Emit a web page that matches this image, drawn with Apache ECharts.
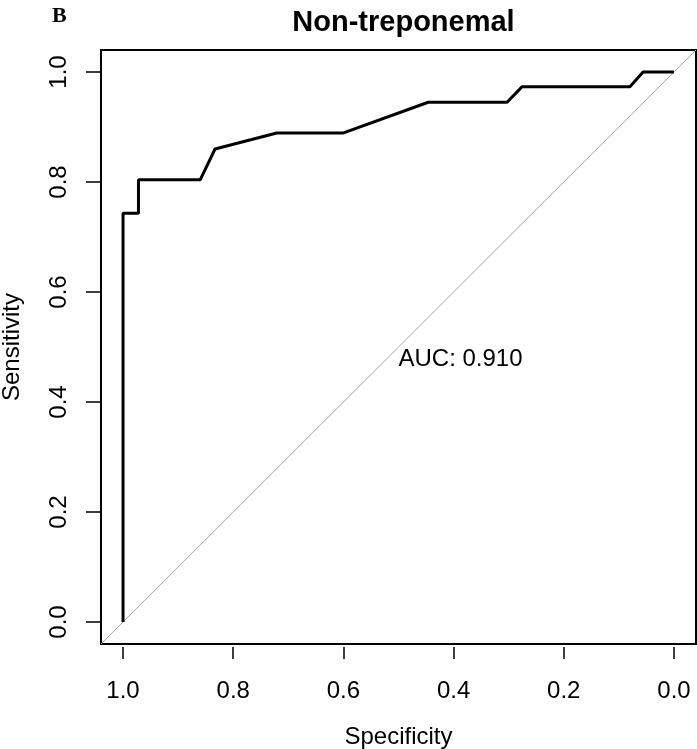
<!DOCTYPE html>
<html>
<head>
<meta charset="utf-8">
<title>Non-treponemal ROC</title>
<script src="https://cdn.jsdelivr.net/npm/echarts@6/dist/echarts.min.js"></script>
<style>
  html, body { margin: 0; padding: 0; background: #fff; }
  #chart { width: 697px; height: 749px; }
</style>
</head>
<body>
<div id="chart"></div>
<script>
// ROC curve points
const specificity = [1.0, 1.0, 0.972, 0.972, 0.860, 0.833, 0.721, 0.601, 0.446, 0.303, 0.276, 0.080, 0.056, 0.0];
const sensitivity = [0.0, 0.743, 0.743, 0.804, 0.804, 0.860, 0.889, 0.889, 0.945, 0.945, 0.973, 0.973, 1.0, 1.0];
// chance line, runs corner to corner of the (4% padded) plot region
const chanceSpec = [1.04, -0.04];
const chanceSens = [-0.04, 1.04];
const tickValues = [0, 0.2, 0.4, 0.6, 0.8, 1.0];
const aucPos = [0.5, 0.5];
const aucText = 'AUC: 0.910';
const panelTag = 'B';
const titleText = 'Non-treponemal';

const font = 'Liberation Sans, Arial, sans-serif';
const chart = echarts.init(document.getElementById('chart'), null, { renderer: 'canvas' });

const rocData = specificity.map((s, i) => [s, sensitivity[i]]);
const chanceData = chanceSpec.map((s, i) => [s, chanceSens[i]]);

chart.setOption({
  animation: false,
  backgroundColor: '#fff',
  title: [
    {
      text: titleText,
      left: 398.5,
      textAlign: 'center',
      top: 3,
      textStyle: { fontFamily: font, fontWeight: 'bold', fontSize: 29, color: '#000' },
    },
    {
      text: panelTag,
      left: 47,
      top: 0,
      textStyle: { fontFamily: 'Liberation Serif, Times New Roman, serif', fontWeight: 'bold', fontSize: 22, color: '#000' },
    },
  ],
  // R pads the box 4% past the 0..1 range on each side
  grid: {
    left: 101,
    right: 1,
    top: 50,
    bottom: 105,
    outerBoundsMode: 'none',
    containLabel: false,
    show: true,
    borderColor: '#000',
    borderWidth: 2,
    backgroundColor: 'transparent',
  },
  xAxis: {
    type: 'value',
    inverse: true,
    min: -0.04,
    max: 1.04,
    offset: 3,
    name: 'Specificity',
    nameLocation: 'middle',
    nameGap: 78,
    nameTextStyle: { fontFamily: font, fontSize: 24, color: '#000' },
    axisLine: { show: false, onZero: false },
    axisTick: { show: true, length: 12, customValues: tickValues, lineStyle: { color: '#000', width: 1.5 } },
    axisLabel: {
      customValues: tickValues,
      formatter: (v) => v.toFixed(1),
      margin: 32,
      fontFamily: font,
      fontSize: 24,
      color: '#000',
    },
    splitLine: { show: false },
  },
  yAxis: {
    type: 'value',
    min: -0.04,
    max: 1.04,
    name: 'Sensitivity',
    nameLocation: 'middle',
    nameGap: 77,
    nameTextStyle: { fontFamily: font, fontSize: 24, color: '#000' },
    axisLine: { show: false, onZero: false },
    axisTick: { show: true, length: 15, customValues: tickValues, lineStyle: { color: '#000', width: 1.5 } },
    axisLabel: {
      customValues: tickValues,
      formatter: (v) => v.toFixed(1),
      rotate: 90,
      margin: 30,
      fontFamily: font,
      fontSize: 24,
      color: '#000',
    },
    splitLine: { show: false },
  },
  series: [
    {
      name: 'chance',
      type: 'line',
      data: chanceData,
      showSymbol: false,
      lineStyle: { color: '#a6a6a6', width: 1 },
      silent: true,
    },
    {
      name: 'ROC',
      type: 'line',
      data: rocData,
      showSymbol: false,
      lineStyle: { color: '#000', width: 3 },
    },
    {
      name: 'AUC',
      type: 'scatter',
      data: [aucPos],
      symbolSize: 0,
      itemStyle: { opacity: 1 },
      label: {
        show: true,
        position: [0, 0],
        align: 'left',
        verticalAlign: 'top',
        formatter: aucText,
        fontFamily: font,
        fontSize: 24,
        color: '#000',
        opacity: 1,
      },
    },
  ],
});
</script>
</body>
</html>
